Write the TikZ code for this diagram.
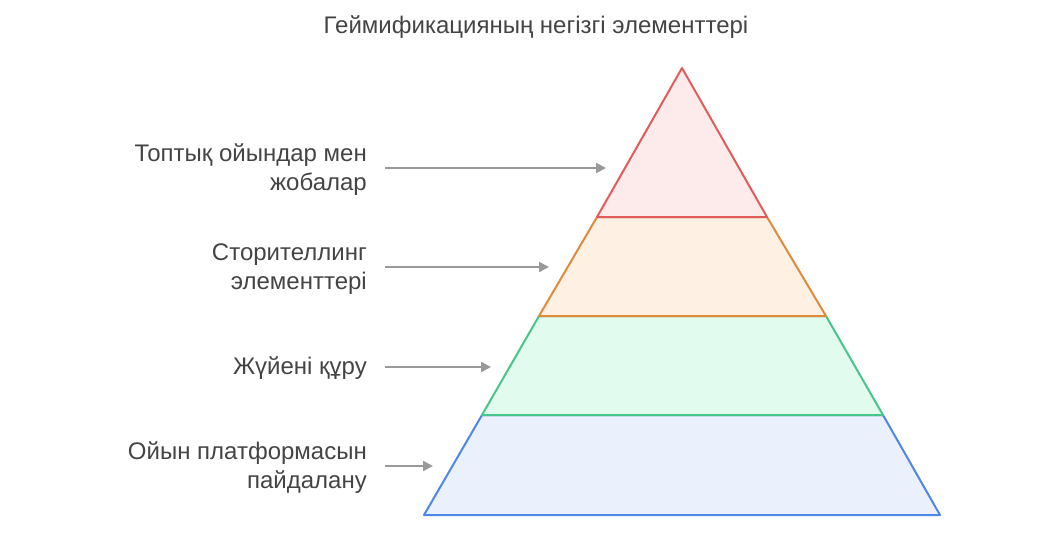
\documentclass[tikz,border=0pt]{standalone}
\usepackage{fontspec}
\setmainfont{Liberation Sans}
\usetikzlibrary{arrows.meta}
\definecolor{txtgray}{HTML}{444444}
\definecolor{arrgray}{HTML}{999999}
\definecolor{redline}{HTML}{E05C5C}
\definecolor{redfill}{HTML}{FDEBEB}
\definecolor{orline}{HTML}{E08A3C}
\definecolor{orfill}{HTML}{FEF0E3}
\definecolor{grline}{HTML}{48C58A}
\definecolor{grfill}{HTML}{E1FBEE}
\definecolor{blline}{HTML}{4F87E6}
\definecolor{blfill}{HTML}{EAF1FD}
\tikzset{
  lab/.style={font=\fontsize{24}{29}\selectfont,text=txtgray,anchor=east,align=right,inner sep=0pt},
  arr/.style={draw=arrgray,line width=2.2pt,-{Triangle[length=10pt,width=10pt]}},
  layer/.style={line width=2pt,line join=round}
}
\begin{document}
\begin{tikzpicture}[x=1pt,y=-1pt]
\useasboundingbox (0,0) rectangle (1063,535);
\node[font=\fontsize{24}{29}\selectfont,text=txtgray] (title) at (536,27) {Геймификацияның негізгі элементтері};

\draw[layer,draw=blline,fill=blfill] (482,415) -- (883,415) -- (940,515) -- (424,515) -- cycle;
\draw[layer,draw=grline,fill=grfill] (539,316) -- (826,316) -- (883,415) -- (482,415) -- cycle;
\draw[layer,draw=orline,fill=orfill] (597,217) -- (767,217) -- (826,316) -- (539,316) -- cycle;
\draw[layer,draw=redline,fill=redfill] (682,68) -- (767,217) -- (597,217) -- cycle;

\node[lab] (l1) at (367,170) {Топтық ойындар мен\\жобалар};
\node[lab] (l2) at (367,269) {Сторителлинг\\элементтері};
\node[lab] (l3) at (367,368) {Жүйені құру};
\node[lab] (l4) at (367,468) {Ойын платформасын\\пайдалану};

\coordinate (s1) at (385,168); \coordinate (t1) at (606,168);
\coordinate (s2) at (385,267); \coordinate (t2) at (549,267);
\coordinate (s3) at (385,367); \coordinate (t3) at (491,367);
\coordinate (s4) at (385,466); \coordinate (t4) at (433,466);

\draw[arr] (s1) -- (t1);
\draw[arr] (s2) -- (t2);
\draw[arr] (s3) -- (t3);
\draw[arr] (s4) -- (t4);
\end{tikzpicture}
\end{document}
